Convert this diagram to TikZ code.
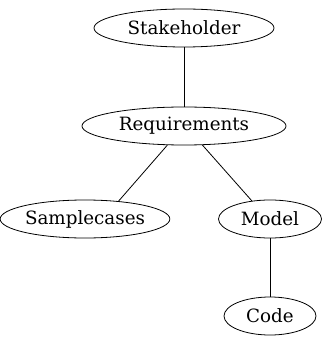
\documentclass[tikz,border=0pt]{standalone}
\usepackage{fontspec}
\setmainfont{DejaVu Serif}
\usetikzlibrary{shapes.geometric}
\begin{document}
\begin{tikzpicture}[x=1pt,y=1pt,
  gnode/.style={draw,ellipse,inner sep=0pt,minimum height=38pt,line width=0.8pt,font=\fontsize{18.3}{21}\selectfont},
  edge/.style={draw,line width=0.8pt}]
\useasboundingbox (0,0) rectangle (329,-347);
\node[gnode,minimum width=180pt] (stake) at (184,-28) {Stakeholder};
\node[gnode,minimum width=204pt] (req) at (184,-126) {Requirements};
\node[gnode,minimum width=163pt] (sample) at (85,-219) {Samplecases};
\node[gnode,minimum width=103pt] (model) at (270,-219) {Model};
\node[gnode,minimum width=92pt] (code) at (270,-316) {Code};
\draw[edge] (stake) -- (req);
\draw[edge] (req.229) -- (sample.28);
\draw[edge] (req.314) -- (model.135);
\draw[edge] (model) -- (code);
\end{tikzpicture}
\end{document}
